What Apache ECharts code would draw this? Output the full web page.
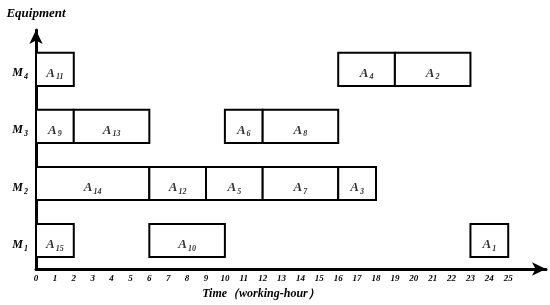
<!DOCTYPE html>
<html>
<head>
<meta charset="utf-8">
<script src="https://cdn.jsdelivr.net/npm/echarts@6/dist/echarts.min.js"></script>
<style>
  html, body { margin: 0; padding: 0; background: #fff; }
  #chart { width: 550px; height: 305px; }
</style>
</head>
<body>
<div id="chart"></div>
<script>
// machines on the y axis (value 1..4)
const machines = ['1', '2', '3', '4'];
// tasks: label subscript, machine index, start and end hour
const taskNames = ['15', '10', '1', '14', '12', '5', '7', '3', '9', '13', '6', '8', '11', '4', '2'];
const taskMachine = [1, 1, 1, 2, 2, 2, 2, 2, 3, 3, 3, 3, 4, 4, 4];
const taskStart = [0, 6, 23, 0, 6, 9, 12, 16, 0, 2, 10, 12, 0, 16, 19];
const taskEnd = [2, 10, 25, 6, 9, 12, 16, 18, 2, 6, 12, 16, 2, 19, 23];
const lastHour = 25;

const serif = 'Liberation Serif';

const seriesData = taskNames.map((n, i) => [taskStart[i], taskEnd[i], taskMachine[i]]);

// big letter + lowered subscript (top padding nudges the pair down to the row centre)
function subStyle(big, small) {
    return {
        a: { fontFamily: serif, fontStyle: 'italic', fontWeight: 'bold', fontSize: big, color: '#000', lineHeight: 16, padding: [6, 0, 0, 0], verticalAlign: 'top' },
        s: { fontFamily: serif, fontStyle: 'italic', fontWeight: 'bold', fontSize: small, color: '#000', lineHeight: 10, padding: [12, 0, 0, 1], verticalAlign: 'top' }
    };
}

const chart = echarts.init(document.getElementById('chart'));
chart.setOption({
    backgroundColor: '#fff',
    animation: false,
    grid: { left: 36, right: 4, top: 30, bottom: 31 },
    xAxis: {
        type: 'value',
        min: 0,
        max: 27,
        interval: 1,
        name: 'Time（working-hour）',
        nameLocation: 'middle',
        nameGap: 19,
        nameTextStyle: {
            fontFamily: serif, fontStyle: 'italic', fontWeight: 'bold', fontSize: 12, color: '#000',
            padding: [0, 60, 0, 0]
        },
        splitLine: { show: false },
        axisTick: { show: false },
        axisLine: {
            onZero: false,
            symbol: ['none', 'arrow'],
            symbolSize: [10, 14],
            lineStyle: { color: '#000', width: 3 }
        },
        axisLabel: {
            margin: 5,
            fontFamily: serif, fontStyle: 'italic', fontWeight: 'bold', fontSize: 9, color: '#000',
            formatter: v => (v <= lastHour ? String(v) : '')
        }
    },
    yAxis: {
        type: 'value',
        min: 0.5,
        max: 4.69,
        interval: 0.5,
        name: 'Equipment',
        nameLocation: 'end',
        nameGap: 10,
        nameTextStyle: {
            fontFamily: serif, fontStyle: 'italic', fontWeight: 'bold', fontSize: 13, color: '#000'
        },
        splitLine: { show: false },
        axisTick: { show: false },
        axisLine: {
            symbol: ['none', 'arrow'],
            symbolSize: [10, 14],
            lineStyle: { color: '#000', width: 3 }
        },
        axisLabel: {
            margin: 8,
            formatter: v => (Number.isInteger(v) && v >= 1 && v <= machines.length ? '{a|M}{s|' + machines[v - 1] + '}' : ''),
            rich: subStyle(12, 8)
        }
    },
    series: [{
        type: 'custom',
        encode: { x: [0, 1], y: 2 },
        data: seriesData,
        renderItem: function (params, api) {
            const s = api.coord([api.value(0), api.value(2)]);
            const e = api.coord([api.value(1), api.value(2)]);
            const h = api.size([0, 0.58])[1];
            return {
                type: 'rect',
                shape: { x: s[0], y: s[1] - h / 2, width: e[0] - s[0], height: h },
                style: { fill: '#fff', stroke: '#000', lineWidth: 2 },
                textContent: {
                    style: { text: '{a|A}{s|' + taskNames[params.dataIndex] + '}', rich: subStyle(13, 8) }
                },
                textConfig: { position: 'inside' }
            };
        }
    }]
});
</script>
</body>
</html>
